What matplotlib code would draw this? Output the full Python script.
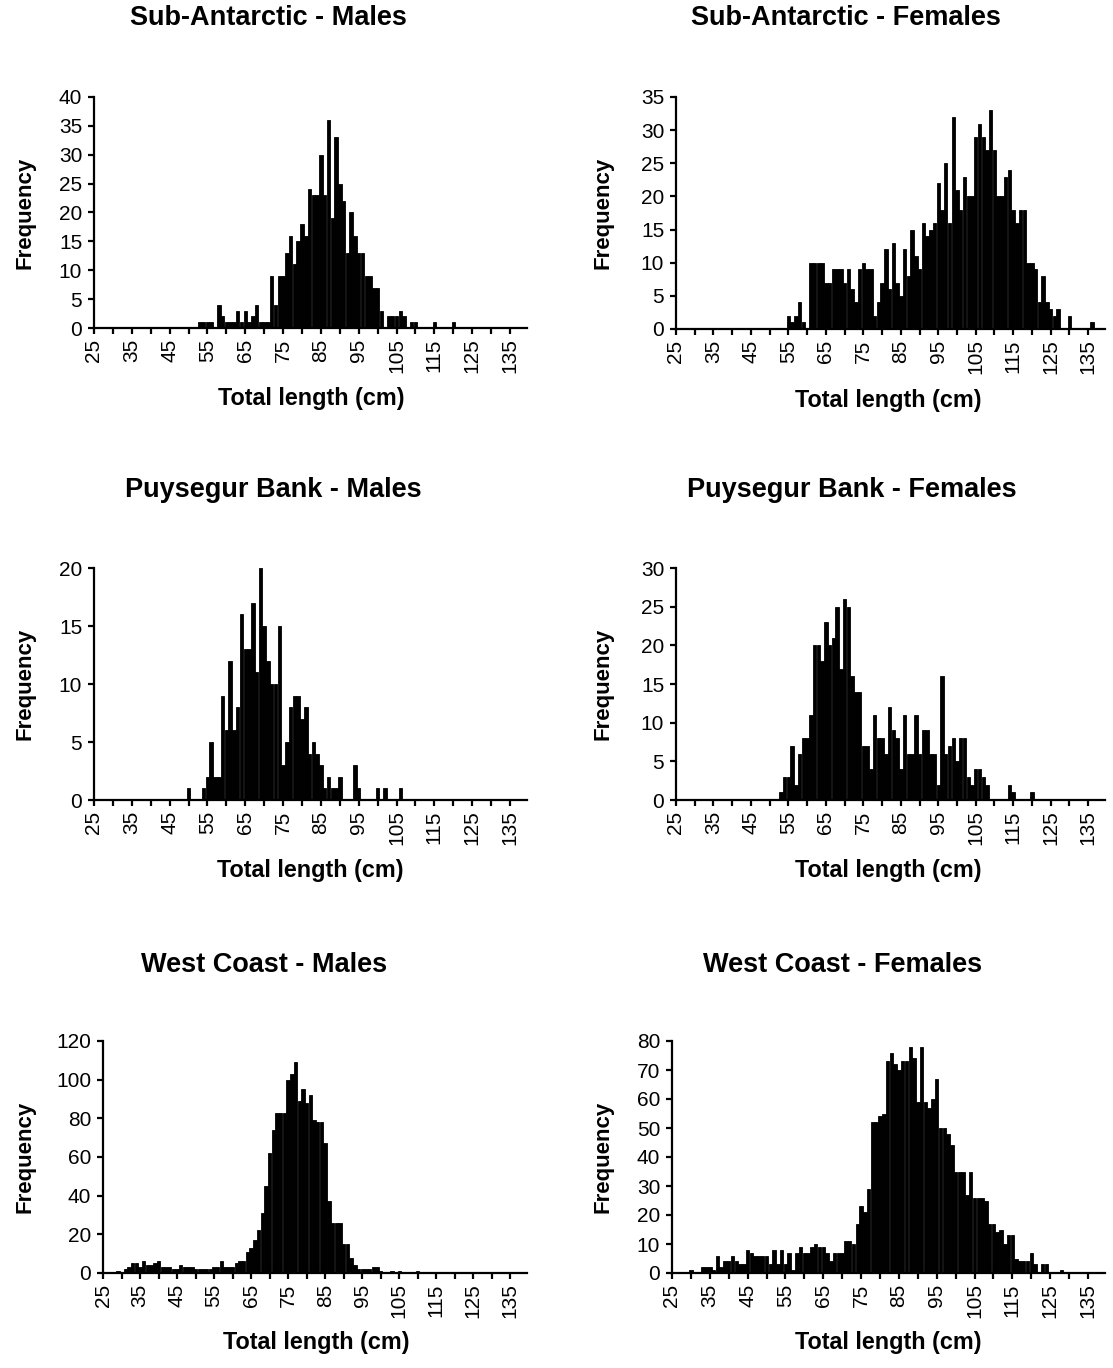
import matplotlib
matplotlib.use("Agg")
import matplotlib.pyplot as plt
from matplotlib.ticker import MultipleLocator

plt.rcParams['font.family'] = ['Liberation Sans', 'DejaVu Sans']

# Sub-Antarctic - Males
sa_m_len = [53, 54, 55, 56] + list(range(58, 102)) + [103, 104, 105, 106, 107, 109, 110, 115, 120]
sa_m_freq = [1, 1, 1, 1,
             4, 2, 1, 1, 1, 3, 1, 3, 1, 2, 4, 1, 1, 1,
             9, 4, 9, 9, 13, 16, 11, 15, 18, 16,
             24, 23, 23, 30, 23, 36, 19, 33, 25, 22,
             13, 20, 16, 13, 13, 9, 9, 7, 7, 3,
             2, 2, 2, 3, 2, 1, 1, 1, 1]

# Sub-Antarctic - Females
sa_f_len = list(range(55, 128)) + [130, 136]
sa_f_freq = [2, 1, 2, 4, 1, 0, 10, 10, 10, 10,
             7, 7, 9, 9, 9, 7, 9, 6, 4, 9,
             10, 9, 9, 2, 4, 7, 12, 6, 13, 7,
             5, 12, 8, 15, 11, 9, 16, 14, 15, 16,
             22, 18, 25, 16, 32, 21, 18, 23, 20, 20,
             29, 31, 29, 27, 33, 27, 20, 20, 23, 24,
             18, 16, 18, 18, 10, 10, 9, 4, 8, 4,
             3, 2, 3,
             2, 1]

# Puysegur Bank - Males
pb_m_len = [50] + list(range(54, 91)) + [94, 95, 100, 102, 106]
pb_m_freq = [1,
             1, 2, 5, 2, 2, 9, 6, 12, 6, 8,
             16, 13, 13, 17, 11, 20, 15, 12, 10, 10,
             15, 3, 5, 8, 9, 9, 7, 8, 4, 5,
             4, 3, 1, 2, 1, 1, 2,
             3, 1, 1, 1, 1]

# Puysegur Bank - Females
pb_f_len = list(range(53, 109)) + [114, 115, 120]
pb_f_freq = [1, 3, 3, 7, 2, 6, 8, 8, 11, 20,
             20, 18, 23, 20, 21, 25, 17, 26, 25, 16,
             14, 14, 7, 7, 4, 11, 8, 8, 6, 12,
             9, 8, 4, 11, 6, 6, 11, 6, 9, 9,
             6, 6, 2, 16, 6, 7, 8, 5, 8, 8,
             3, 2, 4, 4, 3, 2,
             2, 1, 1]

# West Coast - Males
wc_m_len = list(range(29, 101)) + [103, 105, 110]
wc_m_freq = [1, 0, 2, 3, 5, 5, 3, 6, 4, 4,
             5, 6, 3, 3, 3, 2, 2, 4, 3, 3,
             3, 2, 2, 2, 2, 2, 3, 3, 6, 3,
             3, 3, 5, 6, 6, 11, 13, 17, 22, 31,
             45, 62, 74, 83, 83, 83, 100, 103, 109, 89,
             95, 88, 92, 79, 78, 78, 67, 37, 26, 26,
             26, 15, 15, 8, 4, 2, 2, 2, 2, 3,
             3, 1,
             1, 1, 1]

# West Coast - Females
wc_f_len = list(range(30, 125)) + [128]
wc_f_freq = [1, 0, 0, 2, 2, 2, 1, 6, 2, 4,
             4, 6, 4, 3, 3, 8, 7, 6, 6, 6,
             6, 3, 8, 3, 8, 3, 7, 1, 7, 9,
             7, 7, 9, 10, 9, 9, 7, 4, 7, 7,
             7, 11, 11, 10, 17, 23, 21, 29, 52, 52,
             54, 55, 73, 76, 72, 70, 73, 73, 78, 74,
             59, 78, 59, 57, 60, 67, 50, 50, 48, 44,
             35, 35, 35, 27, 35, 26, 26, 26, 25, 17,
             17, 14, 15, 10, 13, 13, 5, 4, 4, 4,
             7, 3, 0, 3, 3,
             1]

titles = ["Sub-Antarctic - Males", "Sub-Antarctic - Females",
          "Puysegur Bank - Males", "Puysegur Bank - Females",
          "West Coast - Males", "West Coast - Females"]
series = [(sa_m_len, sa_m_freq), (sa_f_len, sa_f_freq),
          (pb_m_len, pb_m_freq), (pb_f_len, pb_f_freq),
          (wc_m_len, wc_m_freq), (wc_f_len, wc_f_freq)]
ymax = [40, 35, 20, 30, 120, 80]
ystep = [5, 5, 5, 5, 20, 10]

W, H = 1113, 1368
# axes boxes in pixels: left, right, top, bottom
boxes = [(94, 527, 97, 328), (676, 1105, 97, 329),
         (94, 527, 568, 800), (676, 1105, 568, 800),
         (103, 527, 1041, 1273), (672, 1105, 1041, 1273)]
title_pos = [(268, 18), (846, 18), (273, 490), (852, 490), (264, 965), (843, 965)]
xlabel_pos = [(311, 398), (888, 400), (310, 870), (888, 870), (316, 1343), (888, 1343)]
ylabel_x = [25, 603, 25, 603, 25, 603]

fig = plt.figure(figsize=(W / 100, H / 100), dpi=100)

for i, (lens, freqs) in enumerate(series):
    assert len(lens) == len(freqs), titles[i]
    l, r, t, b = boxes[i]
    ax = fig.add_axes([l / W, 1 - b / H, (r - l) / W, (b - t) / H])
    ax.bar(lens, freqs, width=0.92, color='black', edgecolor='black', linewidth=0.6)
    ax.set_xlim(25, 139.5)
    ax.set_ylim(0, ymax[i])
    ax.xaxis.set_minor_locator(MultipleLocator(5))
    ax.set_xticks(range(25, 136, 10))
    ax.yaxis.set_major_locator(MultipleLocator(ystep[i]))
    for s in ['top', 'right']:
        ax.spines[s].set_visible(False)
    for s in ['left', 'bottom']:
        ax.spines[s].set_linewidth(1.6)
    ax.tick_params(axis='both', which='both', direction='out', width=1.6, length=4.5)
    ax.tick_params(axis='x', labelsize=15, labelrotation=90, pad=3)
    ax.tick_params(axis='y', labelsize=15, pad=4)

    fig.text(title_pos[i][0] / W, 1 - title_pos[i][1] / H, titles[i],
             ha='center', va='center', fontsize=19.5, fontweight='bold')
    fig.text(xlabel_pos[i][0] / W, 1 - xlabel_pos[i][1] / H, 'Total length (cm)',
             ha='center', va='center', fontsize=16.8, fontweight='bold')
    fig.text(ylabel_x[i] / W, 1 - ((t + b) / 2) / H, 'Frequency', rotation=90,
             ha='center', va='center', fontsize=16, fontweight='bold')

plt.savefig('out.png', dpi=100)
